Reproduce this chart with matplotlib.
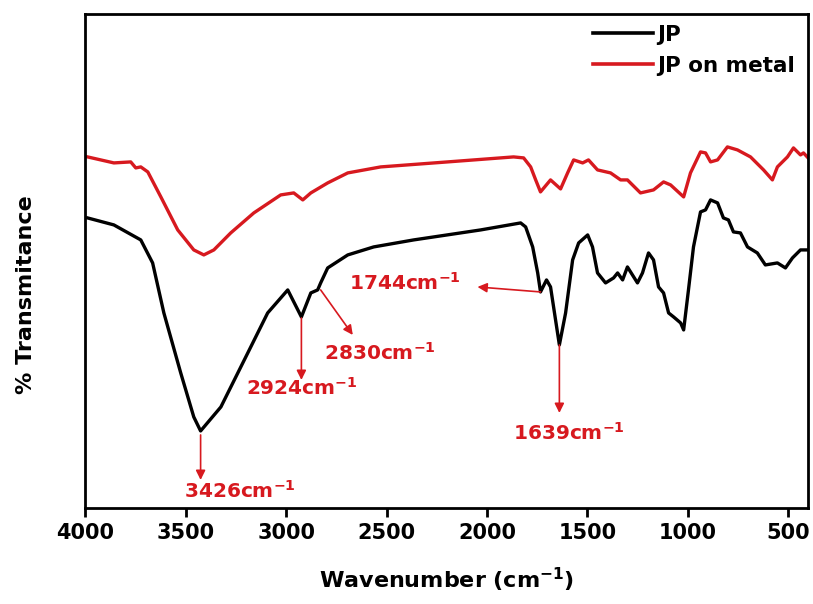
import matplotlib
matplotlib.use("Agg")
import matplotlib.pyplot as plt

plt.rcParams["font.family"] = ["DejaVu Sans"]
plt.rcParams["font.weight"] = "bold"
plt.rcParams["mathtext.fontset"] = "dejavusans"
plt.rcParams["mathtext.default"] = "bf"

# JP spectrum (wavenumber, transmittance in arbitrary units)
jp_wn = [3989, 3858, 3724, 3665, 3609, 3525, 3460, 3426, 3325, 3191, 3092, 2992, 2924,
         2877, 2843, 2828, 2793, 2693, 2564, 2365, 2031, 1832, 1807, 1772, 1747,
         1733, 1703, 1683, 1658, 1639, 1608, 1573, 1543, 1498, 1474, 1449, 1409,
         1369, 1349, 1324, 1300, 1275, 1250, 1225, 1195, 1170, 1145, 1120, 1095,
         1070, 1035, 1020, 996, 971, 936, 911, 886, 851, 822, 797, 772, 737, 702,
         653, 613, 553, 513, 478, 438, 403]
jp_t = [290, 283, 268, 245, 195, 135, 91, 77, 101, 155, 195, 218, 191,
        215, 218, 225, 240, 253, 261, 268, 278, 285, 281, 261, 235,
        216, 228, 221, 188, 163, 195, 248, 265, 273, 261, 235, 225,
        230, 235, 228, 241, 233, 225, 235, 255, 248, 221, 215, 195,
        191, 185, 178, 218, 261, 296, 298, 308, 305, 290, 288, 276,
        275, 261, 255, 243, 245, 240, 250, 258, 258]

# JP on metal spectrum
metal_wn = [3989, 3858, 3774, 3749, 3724, 3689, 3624, 3540, 3460, 3410, 3360,
            3276, 3161, 3027, 2962, 2917, 2877, 2793, 2693, 2529, 2196, 1867,
            1817, 1782, 1757, 1733, 1683, 1633, 1598, 1568, 1523, 1494, 1449,
            1384, 1334, 1300, 1235, 1170, 1120, 1085, 1020, 986, 936, 911, 886,
            851, 802, 752, 687, 622, 578, 553, 503, 473, 438, 423, 400]
metal_t = [351, 345, 346, 340, 341, 336, 311, 278, 258, 253, 258,
           275, 295, 313, 315, 308, 315, 325, 335, 341, 346, 351,
           350, 341, 328, 316, 328, 319, 335, 348, 345, 348, 338,
           335, 328, 328, 315, 318, 326, 323, 311, 335, 356, 355, 346,
           348, 361, 358, 351, 338, 328, 341, 351, 360, 353, 355, 350]

# peak labels with arrow start / end and text anchor (left, baseline)
peak_labels = ["3426", "2924", "2830", "1744", "1639"]
arrow_start = [(3426, 73), (2924, 190), (2828, 218), (1733, 216), (1639, 163)]
arrow_end = [(3426, 28), (2924, 128), (2668, 173), (2047, 221), (1639, 95)]
text_pos = [(3510, 10), (3201, 113), (2813, 148), (2688, 218), (1872, 68)]

red = "#d7191f"

fig, ax = plt.subplots(figsize=(8.13, 6.04), dpi=100)
fig.subplots_adjust(left=0.105, right=0.994, top=0.977, bottom=0.159)

ax.plot(jp_wn, jp_t, color="black", lw=2.4, label="JP")
ax.plot(metal_wn, metal_t, color=red, lw=2.4, label="JP on metal")

for lab, s, e, tp in zip(peak_labels, arrow_start, arrow_end, text_pos):
    ax.annotate("", xy=e, xytext=s,
                arrowprops=dict(arrowstyle="-|>", color=red, lw=1.2,
                                mutation_scale=14, shrinkA=0, shrinkB=0))
    ax.text(tp[0], tp[1], lab + r"cm$^{-1}$", color=red, fontsize=14.5,
            fontweight="bold", ha="left", va="baseline")

ax.set_xlim(4000, 400)
ax.set_ylim(0, 494)
ax.set_xticks([4000, 3500, 3000, 2500, 2000, 1500, 1000, 500])
ax.set_yticks([])
ax.tick_params(axis="x", direction="out", length=6.5, width=2, labelsize=15, pad=4)
for lab in ax.get_xticklabels():
    lab.set_fontweight("bold")
for sp in ax.spines.values():
    sp.set_linewidth(2)

ax.set_xlabel(r"Wavenumber (cm$^{-1}$)", fontsize=16, fontweight="bold", labelpad=17)
ax.set_ylabel("% Transmitance", fontsize=16, fontweight="bold")
ax.yaxis.set_label_coords(-0.068, 0.431)

leg = ax.legend(loc="upper right", bbox_to_anchor=(0.994, 0.995), frameon=False,
                fontsize=15.5, handlelength=2.8, handletextpad=0.2,
                labelspacing=0.5, borderaxespad=0.0)
for t in leg.get_texts():
    t.set_fontweight("bold")
for h in leg.get_lines():
    h.set_linewidth(2.6)

fig.savefig("out.png", dpi=100)
